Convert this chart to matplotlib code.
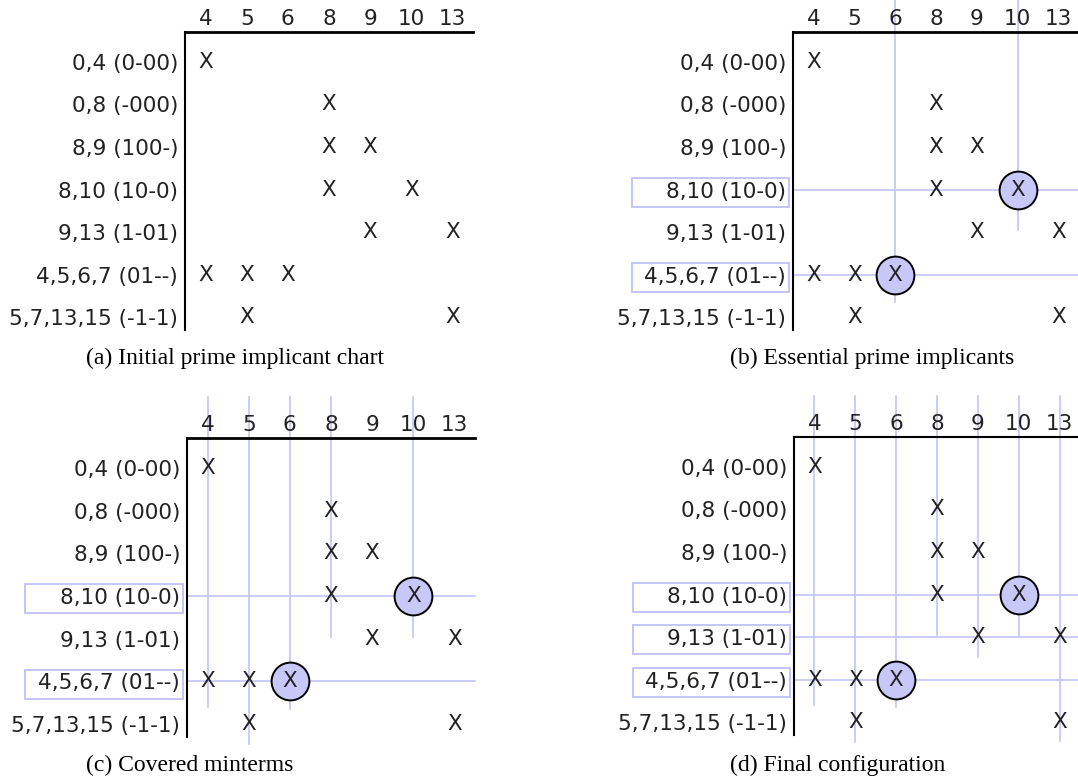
import matplotlib.pyplot as plt
from matplotlib.patches import Rectangle

# datos de la tabla de implicantes primos
columnas = [4, 5, 6, 8, 9, 10, 13]
implicantes = ['0,4 (0-00)', '0,8 (-000)', '8,9 (100-)', '8,10 (10-0)',
               '9,13 (1-01)', '4,5,6,7 (01--)', '5,7,13,15 (-1-1)']
minterms_implicante = [[0, 4], [0, 8], [8, 9], [8, 10], [9, 13], [4, 5, 6, 7], [5, 7, 13, 15]]

# implicantes esenciales (fila) y minterm que los hace esenciales
esenciales_fila = [3, 5]
esenciales_col = [10, 6]

titulos = ['(a) Initial prime implicant chart', '(b) Essential prime implicants',
           '(c) Covered minterms', '(d) Final configuration']
filas_marcadas = [[], [3, 5], [3, 5], [3, 4, 5]]
cols_marcadas = [[], [6, 10], [4, 5, 6, 8, 10], [4, 5, 6, 8, 9, 10, 13]]
con_circulos = [False, True, True, True]

W, H = 1078, 782
# rectangulos de cada tabla en pixeles (izq, arriba, ancho, alto)
cajas = [(185, 32, 288, 298), (793, 32, 286, 298), (187, 438, 288, 299), (794, 437, 286, 298)]
pos_titulos = [(86, 358), (730, 358), (86, 765), (730, 765)]
# hasta donde baja cada linea vertical (en filas)
fin_linea = {4: 5.6, 5: 6.47, 6: 5.65, 8: 3.95, 9: 4.47, 10: 3.95, 13: 6.45}

azul = '#c4c4f8'
relleno = '#c8c8f8'
tam = 15.5

fig = plt.figure(figsize=(W / 100, H / 100), dpi=100)

for k in range(4):
    l, t, w, h = cajas[k]
    ax = fig.add_axes([l / W, 1 - (t + h) / H, w / W, h / H])
    ax.set_xlim(-0.5, 6.5)
    ax.set_ylim(6.3, -0.7)
    for s in ['right', 'bottom']:
        ax.spines[s].set_visible(False)
    ax.spines['top'].set_linewidth(2.0 if k < 3 else 1.5)
    ax.spines['left'].set_linewidth(1.5)
    ax.xaxis.tick_top()
    ax.set_xticks(range(len(columnas)))
    ax.set_xticklabels([str(c) for c in columnas])
    ax.set_yticks(range(len(implicantes)))
    ax.set_yticklabels(implicantes)
    ax.tick_params(axis='x', length=0, pad=2, labelsize=tam, labelcolor='#222222')
    ax.tick_params(axis='y', length=0, pad=5, labelsize=tam, labelcolor='#222222')

    # lineas de columnas cubiertas
    for c in cols_marcadas[k]:
        i = columnas.index(c)
        ax.plot([i, i], [-1.66, fin_linea[c]], color=azul, lw=1.2, zorder=1, clip_on=False)
    # lineas y recuadros de filas elegidas
    for f in filas_marcadas[k]:
        ax.plot([-0.5, 6.5], [f, f], color=azul, lw=1.2, zorder=1, clip_on=False)
        ax.add_patch(Rectangle((-4.44, f - 0.28), 3.84, 0.68, fill=False,
                               edgecolor=azul, lw=1.4, clip_on=False))

    if con_circulos[k]:
        xs = [columnas.index(c) for c in esenciales_col]
        ax.scatter(xs, esenciales_fila, s=740, color=relleno, edgecolors='black',
                   linewidths=1.4, zorder=2, clip_on=False)

    for f, mts in enumerate(minterms_implicante):
        for i, c in enumerate(columnas):
            if c in mts:
                ax.text(i, f, 'X', ha='center', va='center', fontsize=tam,
                        color='#222222', zorder=3)

    x, y = pos_titulos[k]
    fig.text(x / W, 1 - y / H, titulos[k], ha='left', va='center',
             family='Liberation Serif', fontsize=17)

plt.savefig('out.png', dpi=100)
